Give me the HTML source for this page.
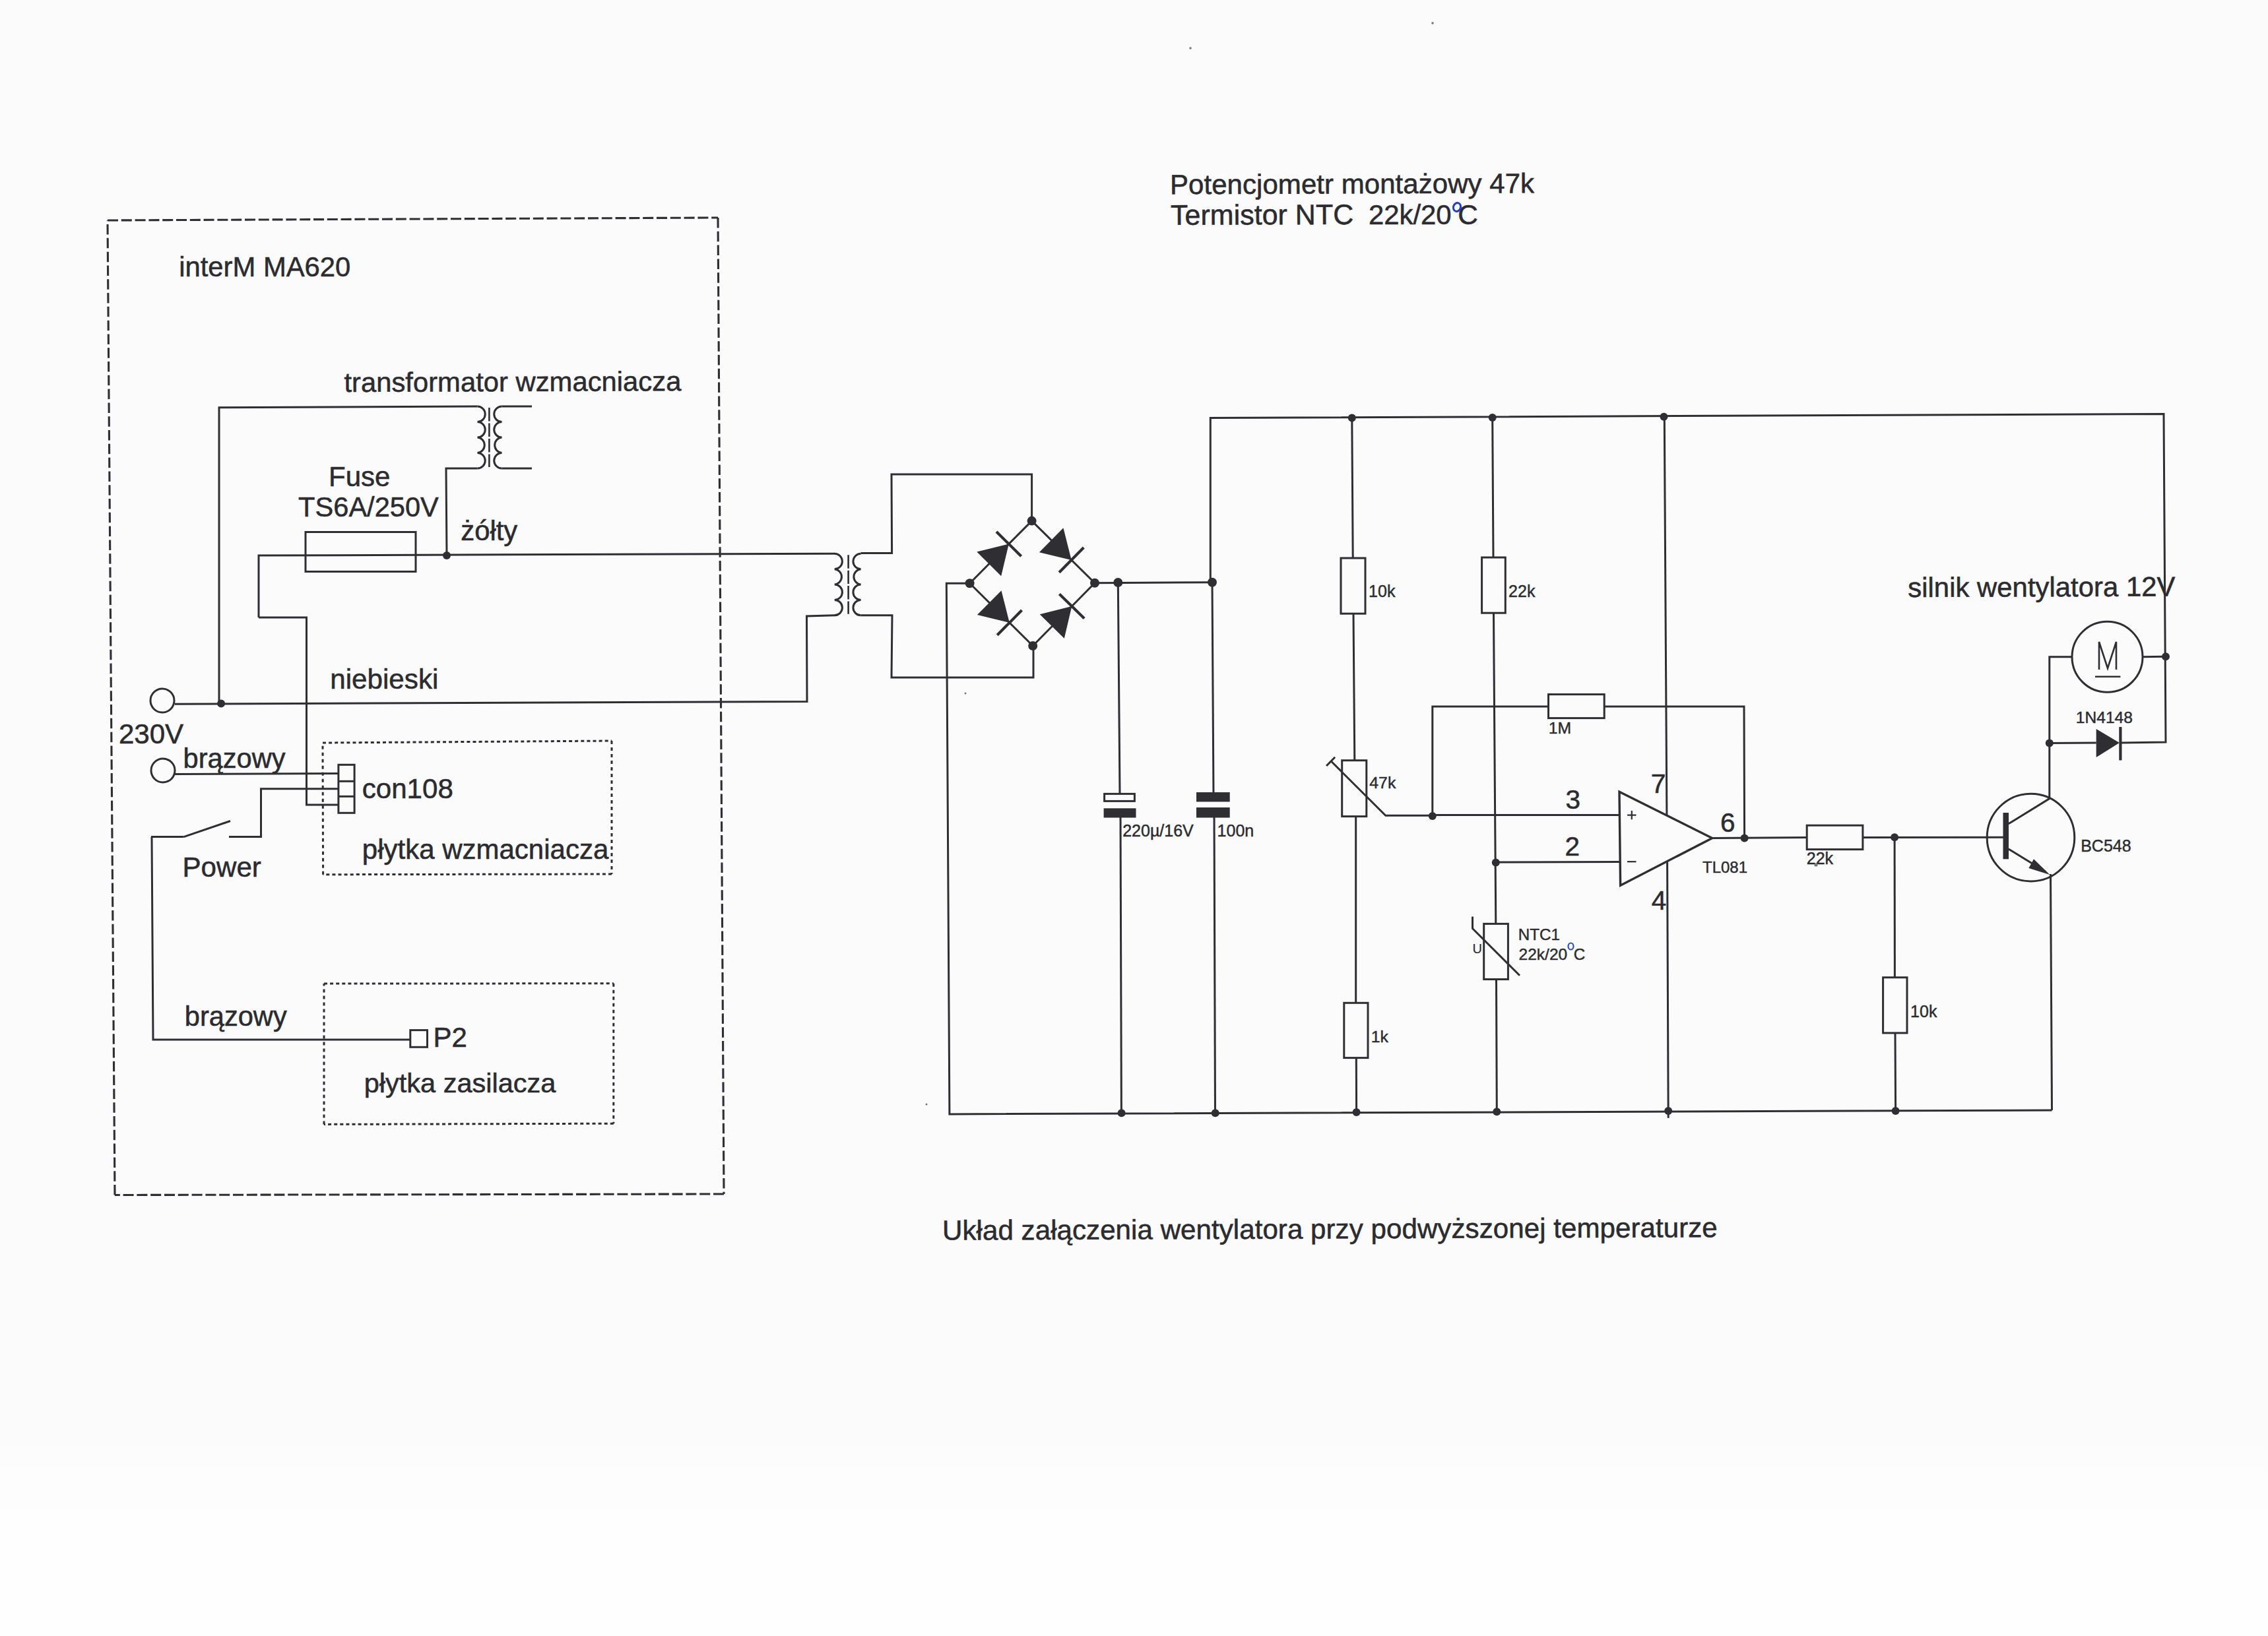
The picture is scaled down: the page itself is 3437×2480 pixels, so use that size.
<!DOCTYPE html>
<html><head><meta charset="utf-8"><style>
html,body{margin:0;padding:0;background:#fcfcfc;overflow:hidden;width:3437px;height:2480px;}
svg{display:block;}
text{font-family:"Liberation Sans",sans-serif;white-space:pre;}
</style></head><body>
<svg width="3437" height="2480" viewBox="0 0 3437 2480">
<defs><linearGradient id="bg" x1="0" y1="0" x2="0" y2="1"><stop offset="0" stop-color="#fbfbfb"/><stop offset="0.88" stop-color="#fbfbfb"/><stop offset="0.93" stop-color="#fefefe"/><stop offset="1" stop-color="#fefefe"/></linearGradient></defs>
<rect x="0" y="0" width="3437" height="2480" fill="url(#bg)"/>
<g fill="none" stroke="#2e2e33" stroke-linejoin="miter" stroke-linecap="butt">
<polyline points="163.0,334.0 1088.0,330.0" stroke-width="3.1" stroke-dasharray="16 4.8"/>
<polyline points="1088.0,330.0 1097.0,1810.0" stroke-width="3.1" stroke-dasharray="15.5 5.3"/>
<polyline points="1097.0,1810.0 174.0,1811.5" stroke-width="3.1" stroke-dasharray="16 4.8"/>
<polyline points="174.0,1811.5 163.0,334.0" stroke-width="3.1" stroke-dasharray="15.5 5.3"/>
<polyline points="489.0,1126.0 927.0,1123.0" stroke-width="3" stroke-dasharray="5 4.1"/>
<polyline points="927.0,1123.0 927.0,1325.0" stroke-width="3" stroke-dasharray="5 5"/>
<polyline points="927.0,1325.0 489.6,1325.7" stroke-width="3" stroke-dasharray="5 4.1"/>
<polyline points="489.6,1325.7 489.0,1126.0" stroke-width="3" stroke-dasharray="5 5"/>
<polyline points="491.0,1491.0 929.8,1490.8" stroke-width="3" stroke-dasharray="5 4.1"/>
<polyline points="929.8,1490.8 929.8,1703.2" stroke-width="3" stroke-dasharray="5 5"/>
<polyline points="929.8,1703.2 491.0,1704.4" stroke-width="3" stroke-dasharray="5 4.1"/>
<polyline points="491.0,1704.4 491.0,1491.0" stroke-width="3" stroke-dasharray="5 5"/>
<text x="271.2" y="419.0" font-size="41.8" fill="#2b2b30" stroke="#2b2b30" stroke-width="0.55">interM MA620</text>
<text x="521.4" y="594.0" font-size="41.8" fill="#2b2b30" stroke="#2b2b30" stroke-width="0.55" transform="rotate(-0.2 522.0 594.0)">transformator wzmacniacza</text>
<text x="498.1" y="736.5" font-size="42.0" fill="#2b2b30" stroke="#2b2b30" stroke-width="0.55">Fuse</text>
<text x="452.1" y="783.0" font-size="41.6" fill="#2b2b30" stroke="#2b2b30" stroke-width="0.55">TS6A/250V</text>
<text x="698.3" y="819.0" font-size="41.8" fill="#2b2b30" stroke="#2b2b30" stroke-width="0.55">żółty</text>
<text x="500.2" y="1044.0" font-size="42.2" fill="#2b2b30" stroke="#2b2b30" stroke-width="0.55">niebieski</text>
<text x="179.9" y="1127.4" font-size="42.1" fill="#2b2b30" stroke="#2b2b30" stroke-width="0.55">230V</text>
<text x="277.6" y="1164.0" font-size="41.6" fill="#2b2b30" stroke="#2b2b30" stroke-width="0.55">brązowy</text>
<text x="548.7" y="1209.5" font-size="42.1" fill="#2b2b30" stroke="#2b2b30" stroke-width="0.55">con108</text>
<text x="548.8" y="1301.5" font-size="42.0" fill="#2b2b30" stroke="#2b2b30" stroke-width="0.55">płytka wzmacniacza</text>
<text x="276.5" y="1329.0" font-size="42.1" fill="#2b2b30" stroke="#2b2b30" stroke-width="0.55">Power</text>
<text x="279.8" y="1555.0" font-size="41.6" fill="#2b2b30" stroke="#2b2b30" stroke-width="0.55">brązowy</text>
<text x="656.6" y="1587.0" font-size="42.0" fill="#2b2b30" stroke="#2b2b30" stroke-width="0.55">P2</text>
<text x="551.7" y="1656.0" font-size="41.5" fill="#2b2b30" stroke="#2b2b30" stroke-width="0.55">płytka zasilacza</text>
<path d="M723.5,616.1 A11.737499999999997,11.737499999999997 0 0 1 723.5,639.6 A11.737499999999997,11.737499999999997 0 0 1 723.5,663.1 A11.737499999999997,11.737499999999997 0 0 1 723.5,686.5 A11.737499999999997,11.737499999999997 0 0 1 723.5,710.0" stroke-width="3" fill="none"/>
<path d="M760.5,616.1 A11.737499999999997,11.737499999999997 0 0 0 760.5,639.6 A11.737499999999997,11.737499999999997 0 0 0 760.5,663.1 A11.737499999999997,11.737499999999997 0 0 0 760.5,686.5 A11.737499999999997,11.737499999999997 0 0 0 760.5,710.0" stroke-width="3" fill="none"/>
<polyline points="741.4,618.1 741.4,708.0" stroke-width="2.6" stroke-dasharray="20.5 3"/>
<polyline points="332.0,1066.0 332.0,617.7 723.5,616.1" stroke-width="3"/>
<polyline points="760.5,616.1 806.0,616.1" stroke-width="3"/>
<polyline points="760.5,710.0 806.0,710.0" stroke-width="3"/>
<polyline points="723.5,710.0 676.0,710.0 677.0,842.0" stroke-width="3"/>
<circle cx="677.0" cy="842.0" r="6" fill="#2e2e33" stroke="none"/>
<polyline points="392.0,936.0 392.0,842.0 1265.0,839.3" stroke-width="3"/>
<rect x="463.0" y="806.5" width="167.0" height="60.0" stroke-width="3"/>
<polyline points="392.0,936.0 464.5,936.0 464.5,1220.0 513.0,1220.0" stroke-width="3"/>
<circle cx="246.0" cy="1062.0" r="18" stroke-width="3"/>
<polyline points="265.0,1067.2 1223.0,1063.5 1222.5,934.0 1265.0,932.8" stroke-width="3"/>
<circle cx="335.1" cy="1066.6" r="6" fill="#2e2e33" stroke="none"/>
<circle cx="247.0" cy="1168.0" r="18" stroke-width="3"/>
<polyline points="265.0,1173.6 513.0,1172.4" stroke-width="3"/>
<rect x="512.9" y="1159.3" width="24.2" height="73.0" stroke-width="3"/>
<polyline points="512.9,1184.3 537.1,1184.3" stroke-width="3"/>
<polyline points="512.9,1207.3 537.1,1207.3" stroke-width="3"/>
<polyline points="513.0,1195.8 395.5,1195.8 395.5,1268.6 347.0,1268.6" stroke-width="3"/>
<polyline points="278.4,1268.6 349.0,1244.5" stroke-width="3"/>
<polyline points="229.0,1268.6 278.4,1268.6" stroke-width="3"/>
<polyline points="230.0,1268.6 232.0,1576.0 621.8,1576.0" stroke-width="3"/>
<rect x="621.8" y="1561.6" width="25.7" height="25.7" stroke-width="3"/>
<path d="M1264.7,839.3 A11.6875,11.6875 0 0 1 1264.7,862.7 A11.6875,11.6875 0 0 1 1264.7,886.0 A11.6875,11.6875 0 0 1 1264.7,909.4 A11.6875,11.6875 0 0 1 1264.7,932.8" stroke-width="3" fill="none"/>
<path d="M1304.6,839.3 A11.6875,11.6875 0 0 0 1304.6,862.7 A11.6875,11.6875 0 0 0 1304.6,886.0 A11.6875,11.6875 0 0 0 1304.6,909.4 A11.6875,11.6875 0 0 0 1304.6,932.8" stroke-width="3" fill="none"/>
<polyline points="1285.6,841.3 1285.6,930.8" stroke-width="2.6" stroke-dasharray="20.4 3"/>
<polyline points="1304.6,838.6 1351.6,838.6 1351.0,719.0 1563.6,719.0 1563.6,789.6" stroke-width="3"/>
<polyline points="1304.6,932.8 1352.0,932.8 1351.0,1027.0 1566.0,1027.0 1566.0,979.0" stroke-width="3"/>
<polyline points="1563.6,789.6 1469.6,884.3" stroke-width="3"/>
<polyline points="1469.6,884.3 1565.2,979.0" stroke-width="3"/>
<polyline points="1565.2,979.0 1659.0,883.7" stroke-width="3"/>
<polyline points="1659.0,883.7 1563.6,789.6" stroke-width="3"/>
<circle cx="1563.6" cy="789.6" r="7" fill="#2e2e33" stroke="none"/>
<circle cx="1469.6" cy="884.3" r="7" fill="#2e2e33" stroke="none"/>
<circle cx="1659.0" cy="883.7" r="7" fill="#2e2e33" stroke="none"/>
<circle cx="1565.2" cy="979.0" r="7" fill="#2e2e33" stroke="none"/>
<polygon points="1517.2,873.3 1480.3,836.6 1528.8,824.6" fill="#2e2e33" stroke="none"/>
<polyline points="1547.6,843.3 1510.0,806.0" stroke-width="4.2"/>
<polygon points="1574.9,837.3 1611.4,800.3 1623.7,848.9" fill="#2e2e33" stroke="none"/>
<polyline points="1605.1,867.7 1642.3,830.0" stroke-width="4.2"/>
<polygon points="1480.9,932.1 1517.5,895.2 1529.8,944.0" fill="#2e2e33" stroke="none"/>
<polyline points="1511.2,962.8 1548.5,925.1" stroke-width="4.2"/>
<polygon points="1612.8,967.7 1575.7,931.2 1624.3,919.0" fill="#2e2e33" stroke="none"/>
<polyline points="1643.2,937.6 1605.4,900.4" stroke-width="4.2"/>
<polyline points="1469.6,884.3 1434.3,884.3 1438.9,1688.9 3109.5,1683.0" stroke-width="3"/>
<polyline points="1659.0,883.7 1837.0,882.7" stroke-width="3"/>
<circle cx="1694.3" cy="883.0" r="7" fill="#2e2e33" stroke="none"/>
<circle cx="1837.0" cy="882.7" r="7" fill="#2e2e33" stroke="none"/>
<polyline points="1834.3,882.7 1834.3,633.6 3279.0,627.5 3282.0,1125.0 3213.4,1126.0" stroke-width="3"/>
<circle cx="2048.8" cy="633.6" r="6" fill="#2e2e33" stroke="none"/>
<circle cx="2261.7" cy="633.0" r="6" fill="#2e2e33" stroke="none"/>
<circle cx="2521.5" cy="631.7" r="6" fill="#2e2e33" stroke="none"/>
<polyline points="1694.3,883.0 1697.0,1203.4" stroke-width="3"/>
<polyline points="1698.0,1232.0 1699.4,1687.3" stroke-width="3"/>
<rect x="1673.6" y="1203.4" width="45.8" height="11.0" stroke-width="3"/>
<rect x="1672.6" y="1225.3" width="48.9" height="14.2" fill="#2e2e33" stroke="none"/>
<text x="1701.2" y="1268.0" font-size="25.0" fill="#2b2b30" stroke="#2b2b30" stroke-width="0.45">220µ/16V</text>
<polyline points="1837.0,882.7 1839.0,1208.0" stroke-width="3"/>
<polyline points="1840.0,1232.0 1841.5,1687.3" stroke-width="3"/>
<rect x="1813.0" y="1201.0" width="50.7" height="14.4" fill="#2e2e33" stroke="none"/>
<rect x="1813.0" y="1224.0" width="50.7" height="15.5" fill="#2e2e33" stroke="none"/>
<text x="1844.6" y="1268.0" font-size="25.0" fill="#2b2b30" stroke="#2b2b30" stroke-width="0.45">100n</text>
<circle cx="1699.6" cy="1687.3" r="6" fill="#2e2e33" stroke="none"/>
<circle cx="1841.7" cy="1687.3" r="6" fill="#2e2e33" stroke="none"/>
<circle cx="2055.6" cy="1686.0" r="6" fill="#2e2e33" stroke="none"/>
<circle cx="2268.3" cy="1685.3" r="6" fill="#2e2e33" stroke="none"/>
<circle cx="2528.2" cy="1684.1" r="6" fill="#2e2e33" stroke="none"/>
<circle cx="2872.6" cy="1684.1" r="6" fill="#2e2e33" stroke="none"/>
<polyline points="2048.8,633.6 2050.2,846.0" stroke-width="3"/>
<rect x="2032.0" y="846.0" width="37.0" height="84.2" stroke-width="3"/>
<polyline points="2051.0,930.2 2052.8,1152.7" stroke-width="3"/>
<rect x="2033.7" y="1152.7" width="37.1" height="84.9" stroke-width="3"/>
<polyline points="2054.7,1237.6 2054.7,1520.3" stroke-width="3"/>
<rect x="2036.8" y="1520.3" width="36.2" height="83.3" stroke-width="3"/>
<polyline points="2055.3,1603.6 2055.6,1686.0" stroke-width="3"/>
<text x="2074.1" y="905.0" font-size="25.0" fill="#2b2b30" stroke="#2b2b30" stroke-width="0.45">10k</text>
<text x="2075.3" y="1194.8" font-size="24.8" fill="#2b2b30" stroke="#2b2b30" stroke-width="0.45">47k</text>
<text x="2077.7" y="1579.6" font-size="24.8" fill="#2b2b30" stroke="#2b2b30" stroke-width="0.45">1k</text>
<polyline points="2017.5,1154.3 2099.8,1236.3 2171.3,1236.3" stroke-width="3"/>
<polyline points="2010.1,1161.0 2023.1,1147.7" stroke-width="3"/>
<polyline points="2261.7,633.0 2263.0,845.0" stroke-width="3"/>
<rect x="2245.6" y="845.0" width="35.7" height="84.2" stroke-width="3"/>
<polyline points="2263.5,929.2 2266.8,1400.4" stroke-width="3"/>
<rect x="2248.7" y="1400.4" width="36.7" height="84.1" stroke-width="3"/>
<polyline points="2267.5,1484.5 2268.3,1685.3" stroke-width="3"/>
<text x="2286.1" y="905.0" font-size="25.0" fill="#2b2b30" stroke="#2b2b30" stroke-width="0.45">22k</text>
<circle cx="2266.8" cy="1307.5" r="6" fill="#2e2e33" stroke="none"/>
<polyline points="2231.5,1389.5 2231.5,1407.5 2303.0,1478.7" stroke-width="3"/>
<text x="2231.5" y="1444.6" font-size="20" fill="#2b2b30" stroke="#2b2b30" stroke-width="0.2">U</text>
<text x="2300.8" y="1424.9" font-size="24.2" fill="#2b2b30" stroke="#2b2b30" stroke-width="0.45">NTC1</text>
<text x="2301.6" y="1454.5" font-size="24.5" fill="#2b2b30" stroke="#2b2b30" stroke-width="0.45">22k/20</text>
<text x="2384.8" y="1454.5" font-size="24.2" fill="#2b2b30" stroke="#2b2b30" stroke-width="0.45">C</text>
<ellipse cx="2380.5" cy="1434.5" rx="4" ry="5" stroke="#3050c0" stroke-width="2.2" fill="none"/>
<circle cx="2170.8" cy="1236.9" r="6" fill="#2e2e33" stroke="none"/>
<polyline points="2170.8,1236.9 2170.8,1070.9 2346.5,1070.9" stroke-width="3"/>
<rect x="2346.5" y="1052.6" width="84.7" height="36.0" stroke-width="3"/>
<polyline points="2431.2,1070.9 2643.0,1070.9 2643.6,1270.5" stroke-width="3"/>
<text x="2346.8" y="1111.6" font-size="24.8" fill="#2b2b30" stroke="#2b2b30" stroke-width="0.45">1M</text>
<polyline points="2170.8,1235.6 2454.0,1235.4" stroke-width="3"/>
<polyline points="2266.0,1307.0 2454.0,1306.6" stroke-width="3"/>
<polygon points="2454,1200.2 2455.6,1342.3 2594.7,1270.5" stroke-width="3.4" fill="none"/>
<polyline points="2466.1,1235.6 2479.5,1235.6" stroke-width="2.2"/>
<polyline points="2472.8,1228.9 2472.8,1242.2" stroke-width="2.2"/>
<polyline points="2466.0,1306.2 2479.5,1306.2" stroke-width="2.2"/>
<polyline points="2522.3,631.7 2525.9,1235.9" stroke-width="3"/>
<polyline points="2526.6,1306.2 2528.2,1694.8" stroke-width="3"/>
<text x="2372.5" y="1225.5" font-size="40.5" fill="#2b2b30" stroke="#2b2b30" stroke-width="0.55">3</text>
<text x="2371.5" y="1296.5" font-size="40.5" fill="#2b2b30" stroke="#2b2b30" stroke-width="0.55">2</text>
<text x="2501.7" y="1201.5" font-size="41" fill="#2b2b30" stroke="#2b2b30" stroke-width="0.55">7</text>
<text x="2606.9" y="1260.5" font-size="40.5" fill="#2b2b30" stroke="#2b2b30" stroke-width="0.55">6</text>
<text x="2502.7" y="1379.0" font-size="40.5" fill="#2b2b30" stroke="#2b2b30" stroke-width="0.55">4</text>
<text x="2580.0" y="1323.0" font-size="24.0" fill="#2b2b30" stroke="#2b2b30" stroke-width="0.45">TL081</text>
<circle cx="2643.6" cy="1270.5" r="6" fill="#2e2e33" stroke="none"/>
<polyline points="2594.7,1270.5 2738.2,1269.6" stroke-width="3"/>
<rect x="2738.2" y="1251.2" width="84.7" height="36.4" stroke-width="3"/>
<polyline points="2822.9,1269.5 3036.0,1269.3" stroke-width="3"/>
<text x="2737.8" y="1310.0" font-size="25.0" fill="#2b2b30" stroke="#2b2b30" stroke-width="0.45">22k</text>
<circle cx="2871.1" cy="1269.3" r="6" fill="#2e2e33" stroke="none"/>
<polyline points="2871.1,1269.3 2871.4,1481.7" stroke-width="3"/>
<rect x="2853.6" y="1481.7" width="36.4" height="84.2" stroke-width="3"/>
<polyline points="2872.0,1565.9 2872.6,1684.1" stroke-width="3"/>
<text x="2895.1" y="1542.0" font-size="25.0" fill="#2b2b30" stroke="#2b2b30" stroke-width="0.45">10k</text>
<circle cx="3077.5" cy="1269.6" r="66.3" stroke-width="3"/>
<rect x="3035.5" y="1232.0" width="8.5" height="70.3" fill="#2e2e33" stroke="none"/>
<polyline points="3043.8,1248.8 3105.8,1210.6 3105.8,995.8 3140.0,995.8" stroke-width="3"/>
<polyline points="3043.8,1287.0 3100.0,1321.5" stroke-width="3"/>
<polygon points="3106.4,1326.0 3074.4,1316.0 3082.0,1302.2" fill="#2e2e33" stroke="none"/>
<polyline points="3107.5,1325.0 3109.5,1683.0" stroke-width="3"/>
<text x="3153.2" y="1291.0" font-size="25.0" fill="#2b2b30" stroke="#2b2b30" stroke-width="0.45">BC548</text>
<circle cx="3105.8" cy="1126.6" r="6" fill="#2e2e33" stroke="none"/>
<circle cx="3193.5" cy="995.8" r="53.5" stroke-width="3"/>
<polyline points="3247.0,995.8 3282.0,995.2" stroke-width="3"/>
<circle cx="3282.0" cy="995.2" r="6" fill="#2e2e33" stroke="none"/>
<polyline points="3181,1015 3181,973 3194,1013 3207,973 3207,1015" stroke-width="2.6"/>
<polyline points="3175.0,1025.7 3213.4,1025.7" stroke-width="2.6"/>
<polyline points="3105.8,1126.6 3176.7,1126.0" stroke-width="3"/>
<polygon points="3176.7,1105.0 3176.7,1148.0 3211.9,1126.0" fill="#2e2e33" stroke="none"/>
<polyline points="3213.4,1102.0 3213.4,1152.5" stroke-width="4.2"/>
<text x="3145.8" y="1096.0" font-size="24.6" fill="#2b2b30" stroke="#2b2b30" stroke-width="0.45">1N4148</text>
<text x="2891.3" y="905.0" font-size="41.9" fill="#2b2b30" stroke="#2b2b30" stroke-width="0.55" transform="rotate(-0.2 2892.5 905.0)">silnik wentylatora 12V</text>
<text x="1773.0" y="294.2" font-size="42.1" fill="#2b2b30" stroke="#2b2b30" stroke-width="0.55" transform="rotate(-0.2 1776.5 294.2)">Potencjometr montażowy 47k</text>
<text x="1774.1" y="340.8" font-size="43.0" fill="#2b2b30" stroke="#2b2b30" stroke-width="0.55" transform="rotate(-0.2 1775.0 340.8)">Termistor NTC</text>
<text x="2073.9" y="339.8" font-size="41.9" fill="#2b2b30" stroke="#2b2b30" stroke-width="0.55">22k/20</text>
<text x="2209.3" y="339.5" font-size="42.3" fill="#2b2b30" stroke="#2b2b30" stroke-width="0.55">C</text>
<ellipse cx="2208" cy="314" rx="5.5" ry="6.5" stroke="#2040c0" stroke-width="3" fill="none" transform="rotate(20 2208 314)"/>
<text x="1428.0" y="1879.6" font-size="42.2" fill="#2b2b30" stroke="#2b2b30" stroke-width="0.55" transform="rotate(-0.216 1431.2 1879.6)">Układ załączenia wentylatora przy podwyższonej temperaturze</text>
<circle cx="2171" cy="35" r="1.8" fill="#777" stroke="none"/>
<circle cx="1804" cy="73" r="1.8" fill="#777" stroke="none"/>
<circle cx="1463" cy="1051" r="1.5" fill="#777" stroke="none"/>
<circle cx="1404" cy="1674" r="1.5" fill="#777" stroke="none"/>
<circle cx="2752" cy="1311" r="2.6" fill="#777" stroke="none"/>
</g>
</svg>
</body></html>
